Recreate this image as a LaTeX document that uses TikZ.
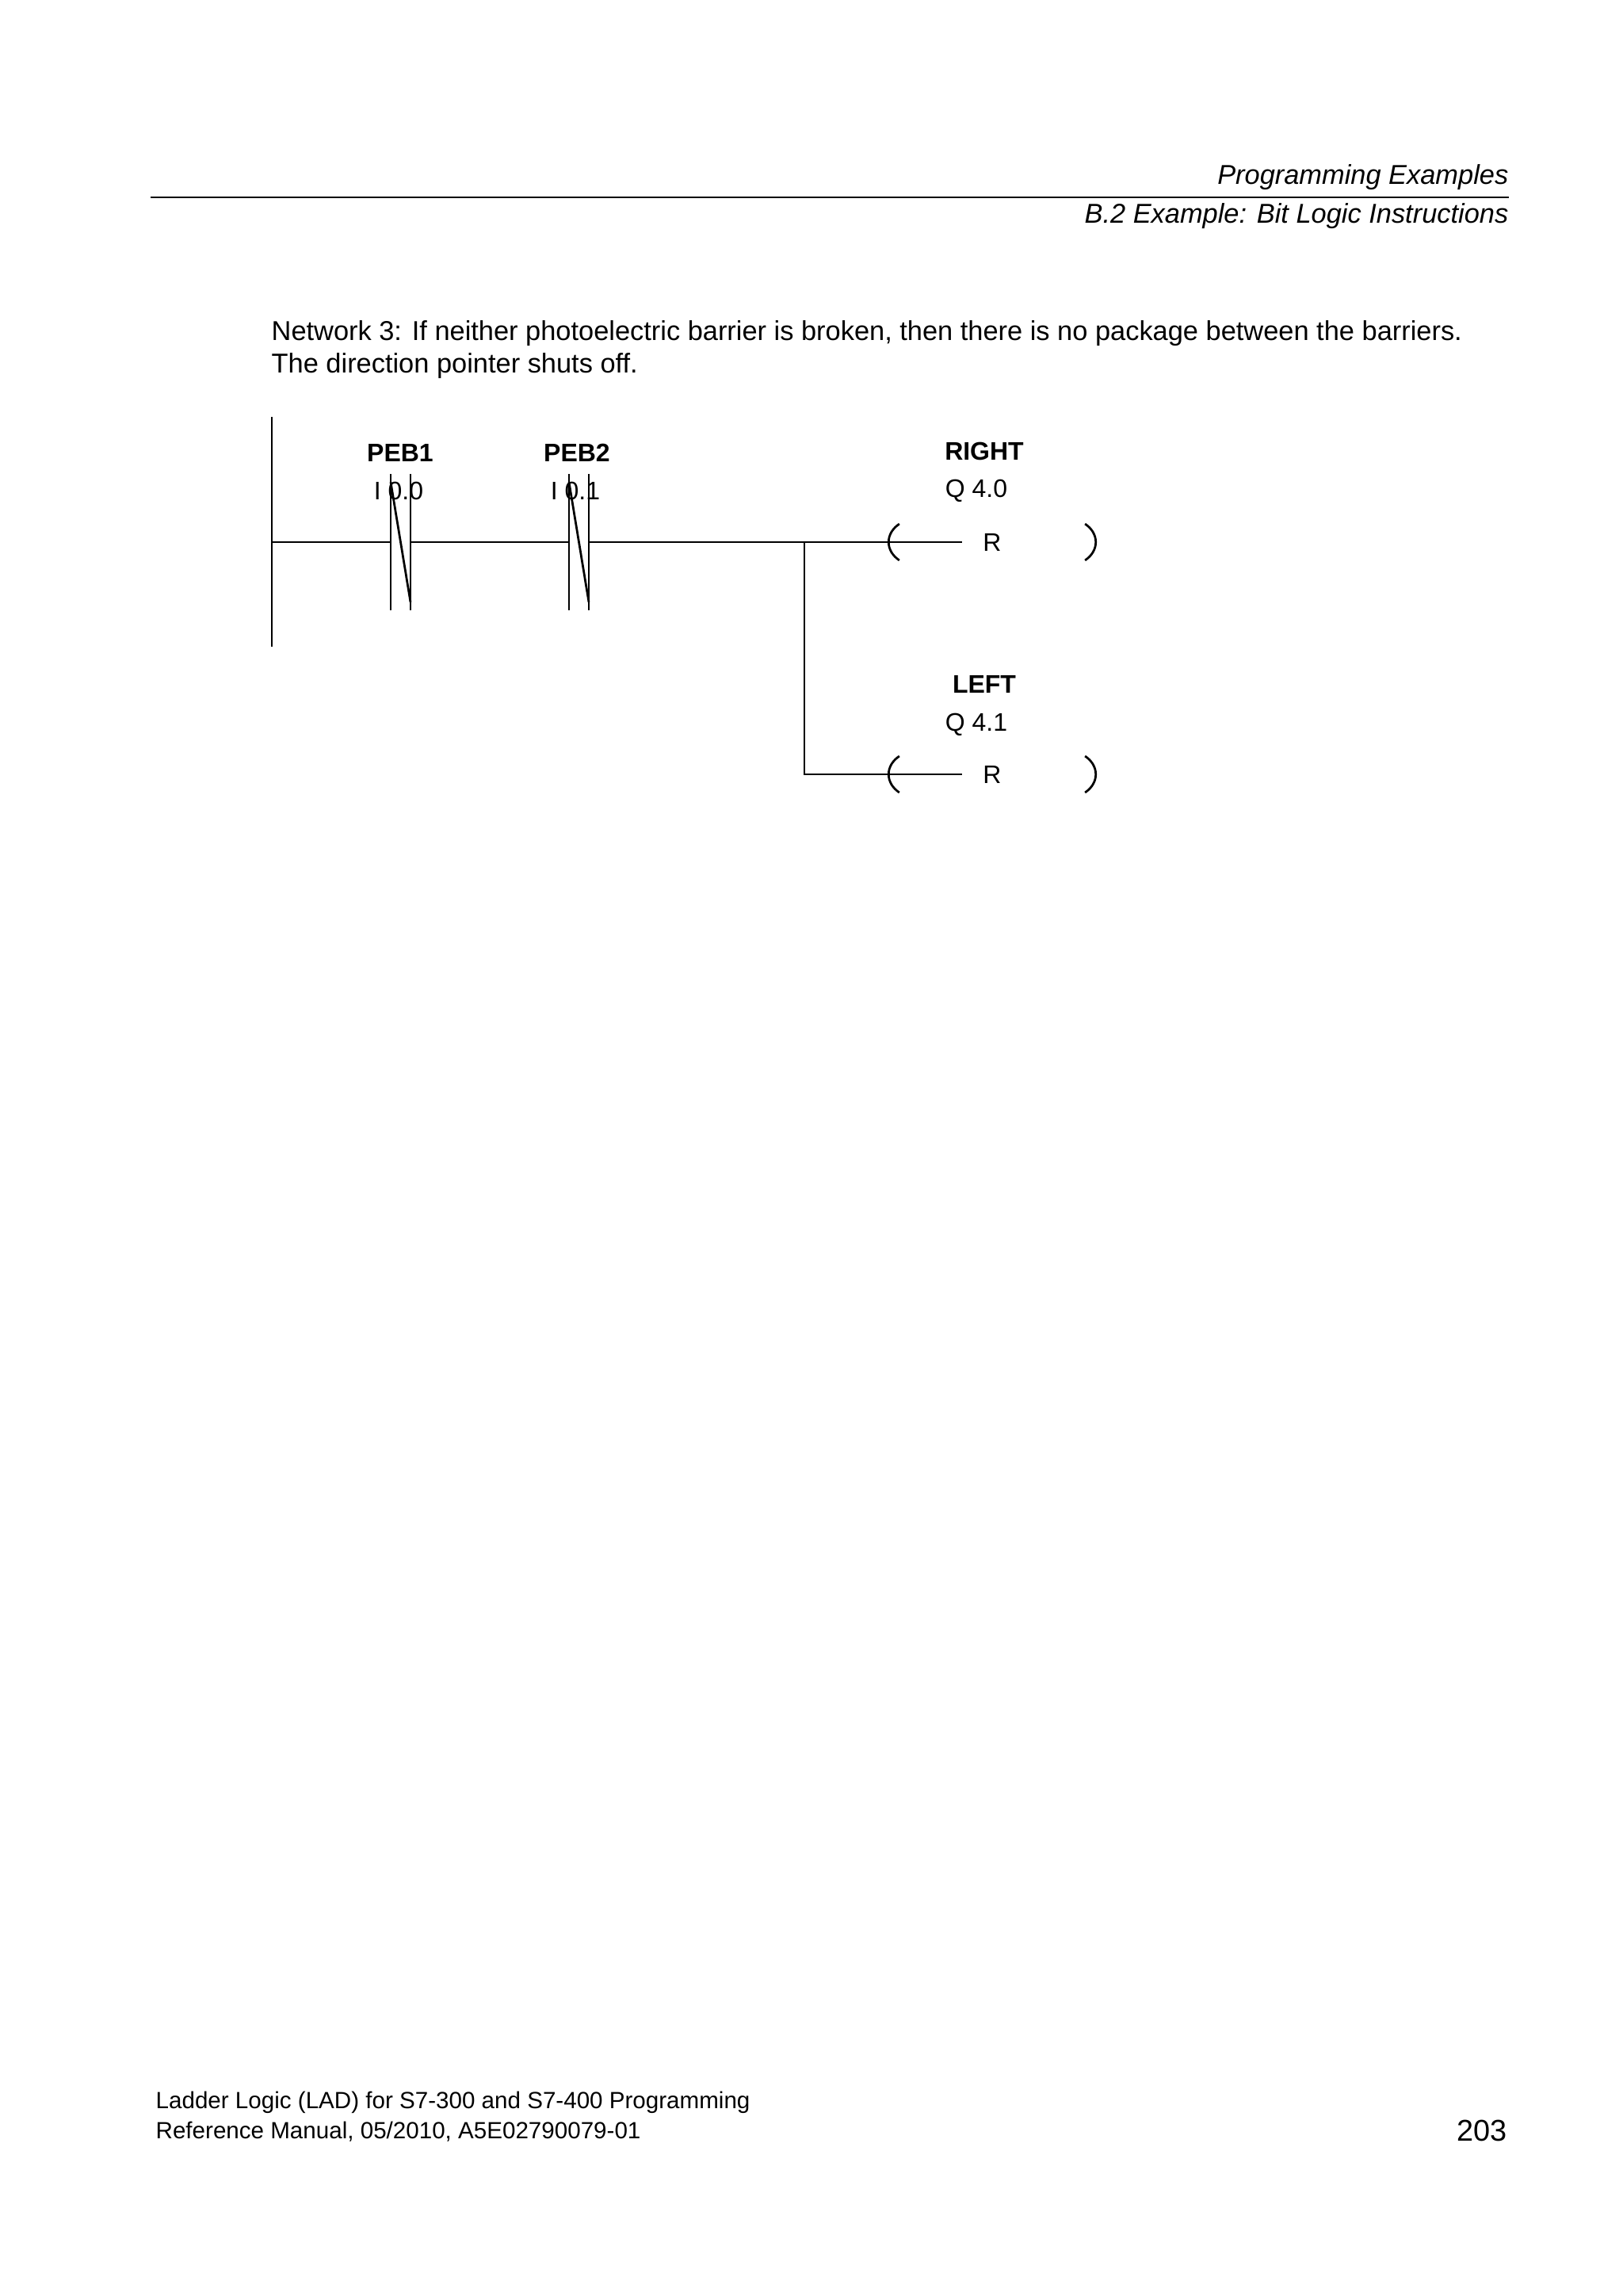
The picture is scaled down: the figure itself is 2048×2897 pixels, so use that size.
\documentclass[tikz,border=0pt]{standalone}
\usepackage{fontspec}
\setmainfont{Liberation Sans}
\begin{document}
\begin{tikzpicture}[x=0.2907pt,y=-0.2907pt,
  wire/.style={line width=0.8pt},
  lbl/.style={font=\fontsize{9.3}{11}\selectfont\bfseries, inner sep=0},
  addr/.style={font=\fontsize{9.3}{11}\selectfont, inner sep=0},
  body/.style={font=\fontsize{10}{12}\selectfont, inner sep=0, anchor=west}]
\useasboundingbox (0,0) rectangle (2048,2897);
% header
\node[font=\fontsize{10}{12}\selectfont\itshape, inner sep=0, anchor=east] (h1) at (1904,224) {Programming Examples};
\draw[line width=0.6pt] (190,249) -- (1904,249);
\node[font=\fontsize{10}{12}\selectfont\itshape, inner sep=0, anchor=east] (h2) at (1904,273) {B.2 Example: Bit Logic Instructions};
\node[body] (t1) at (342,421) {Network 3: If neither photoelectric barrier is broken, then there is no package between the barriers.};
\node[body] (t2) at (342,462) {The direction pointer shuts off.};
% footer
\node[font=\fontsize{8.6}{10}\selectfont, inner sep=0, anchor=west] (f1) at (196,2653) {Ladder Logic (LAD) for S7-300 and S7-400 Programming};
\node[font=\fontsize{8.6}{10}\selectfont, inner sep=0, anchor=west] (f2) at (196,2690) {Reference Manual, 05/2010, A5E02790079-01};
\node[font=\fontsize{11}{13}\selectfont, inner sep=0, anchor=east] (pg) at (1902,2688) {203};
% rail
\coordinate (rt) at (343,526);
\coordinate (rb) at (343,816);
\draw[wire] (rt) -- (rb);
\coordinate (r0) at (343,684);
% contacts
\coordinate (c1l) at (493,684); \coordinate (c1r) at (518,684);
\coordinate (c2l) at (718,684); \coordinate (c2r) at (743,684);
\foreach \a/\b in {c1l/c1r,c2l/c2r}{
  \draw[wire] ([yshift=-25]\a) -- ([yshift=25]\a);
  \draw[wire] ([yshift=-25]\b) -- ([yshift=25]\b);
  \draw[wire] ([yshift=22]\a) -- ([yshift=-22]\b);
}
\coordinate (j) at (1015,684);
\coordinate (j2) at (1015,977);
% coils
\node[addr] (R1) at (1252,684) {R};
\node[addr] (R2) at (1252,977) {R};
\coordinate (k1) at (1214,684);
\coordinate (k2) at (1214,977);
\foreach \c in {R1,R2}{
  \draw[wire] ([xshift=-38]\c.center) ++(0,0) arc[start angle=180,end angle=130,x radius=38,y radius=30];
  \draw[wire] ([xshift=-38]\c.center) arc[start angle=180,end angle=230,x radius=38,y radius=30];
  \draw[wire] ([xshift=38]\c.center) arc[start angle=0,end angle=50,x radius=38,y radius=30];
  \draw[wire] ([xshift=38]\c.center) arc[start angle=0,end angle=-50,x radius=38,y radius=30];
}
\draw[wire] (r0) -- (c1l) (c1r) -- (c2l) (c2r) -- (j) -- (k1);
\draw[wire] (j) -- (j2) -- (k2);
% labels
\node[lbl] (p1) at (505,571) {PEB1};
\node[addr] (a1) at (503,619) {I 0.0};
\node[lbl] (p2) at (728,571) {PEB2};
\node[addr] (a2) at (726,619) {I 0.1};
\node[lbl] (p3) at (1242,569) {RIGHT};
\node[addr] (a3) at (1232,619) {Q 4.0};
\node[lbl] (p4) at (1242,863) {LEFT};
\node[addr] (a4) at (1232,914) {Q 4.1};
\end{tikzpicture}
\end{document}
